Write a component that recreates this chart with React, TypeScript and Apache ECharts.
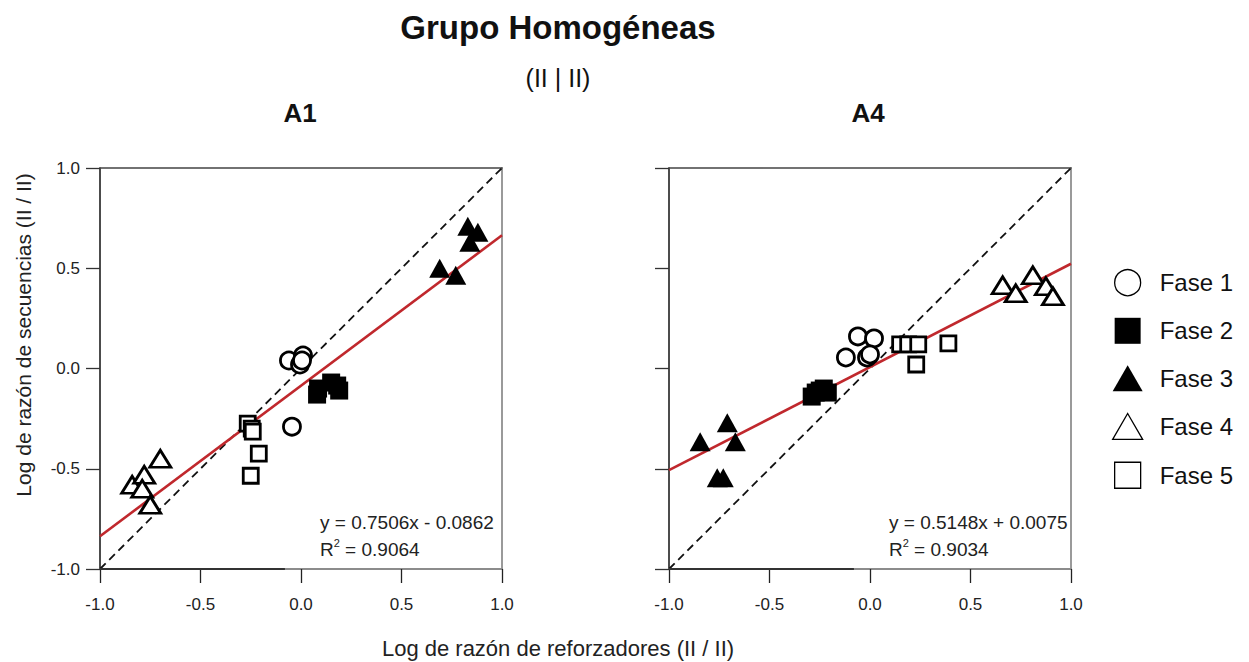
import React, { useEffect, useRef } from "react";
import * as echarts from "echarts";

// Phase names shared by both panels
const phases = ["Fase 1", "Fase 2", "Fase 3", "Fase 4", "Fase 5"];

// Panel A1: [log reinforcer ratio, log sequence ratio]
const a1Fase1 = [[-0.06, 0.04], [0.01, 0.065], [-0.005, 0.02], [0.005, 0.04], [-0.045, -0.29]];
const a1Fase2 = [[0.08, -0.13], [0.085, -0.1], [0.15, -0.07], [0.18, -0.085], [0.19, -0.11]];
const a1Fase3 = [[0.83, 0.71], [0.88, 0.68], [0.84, 0.63], [0.69, 0.5], [0.77, 0.465]];
const a1Fase4 = [[-0.84, -0.58], [-0.78, -0.53], [-0.79, -0.6], [-0.7, -0.45], [-0.75, -0.68]];
const a1Fase5 = [[-0.265, -0.275], [-0.245, -0.3], [-0.24, -0.315], [-0.21, -0.425], [-0.25, -0.535]];
const a1Fit = [0.7506, -0.0862];
const a1R2 = 0.9064;

// Panel A4
const a4Fase1 = [[-0.06, 0.16], [0.02, 0.15], [-0.12, 0.055], [-0.015, 0.055], [0.0, 0.07]];
const a4Fase2 = [[-0.29, -0.14], [-0.25, -0.11], [-0.21, -0.12], [-0.23, -0.1], [-0.27, -0.12]];
const a4Fase3 = [[-0.845, -0.365], [-0.71, -0.27], [-0.67, -0.365], [-0.76, -0.545], [-0.73, -0.545]];
const a4Fase4 = [[0.66, 0.415], [0.81, 0.465], [0.725, 0.375], [0.875, 0.41], [0.91, 0.36]];
const a4Fase5 = [[0.15, 0.12], [0.19, 0.12], [0.24, 0.12], [0.23, 0.02], [0.39, 0.125]];
const a4Fit = [0.5148, 0.0075];
const a4R2 = 0.9034;

const axisTicks = [-1.0, -0.5, 0.0, 0.5, 1.0];

const FONT = "'Liberation Sans', Arial, Helvetica, sans-serif";

// layout of the two plotting areas
const PANEL_TOP = 168;
const PANEL_H = 401;
const PANEL_W = 402;
const PANEL_LEFTS = [100, 669];

const symbolStyles = [
  { symbol: "circle", symbolSize: 17, itemStyle: { color: "#fff", borderColor: "#000", borderWidth: 2.8, opacity: 1 } },
  { symbol: "rect", symbolSize: 18, itemStyle: { color: "#000", borderColor: "#000", borderWidth: 0, opacity: 1 } },
  { symbol: "triangle", symbolSize: [21, 19], itemStyle: { color: "#000", borderColor: "#000", borderWidth: 0, opacity: 1 } },
  { symbol: "triangle", symbolSize: [21, 17], itemStyle: { color: "#fff", borderColor: "#000", borderWidth: 2.8, opacity: 1 } },
  { symbol: "rect", symbolSize: 15, itemStyle: { color: "#fff", borderColor: "#000", borderWidth: 2.8, opacity: 1 } },
];

const fmtEq = (fit: number[]) =>
  `y = ${fit[0].toFixed(4)}x ${fit[1] < 0 ? "-" : "+"} ${Math.abs(fit[1]).toFixed(4)}`;

export default function App() {
  const ref = useRef<HTMLDivElement>(null);

  useEffect(() => {
    if (!ref.current) return;
    const chart = echarts.init(ref.current, undefined, { renderer: "svg" });

    const panels = [
      { sets: [a1Fase1, a1Fase2, a1Fase3, a1Fase4, a1Fase5], fit: a1Fit, r2: a1R2 },
      { sets: [a4Fase1, a4Fase2, a4Fase3, a4Fase4, a4Fase5], fit: a4Fit, r2: a4R2 },
    ];

    const grids = PANEL_LEFTS.map((left) => ({
      left,
      top: PANEL_TOP,
      width: PANEL_W,
      height: PANEL_H,
      containLabel: false,
    }));

    const valueAxisBase = {
      type: "value",
      min: -1,
      max: 1,
      interval: 0.5,
      splitLine: { show: false },
    };

    const xAxes: any[] = [];
    const yAxes: any[] = [];
    [0, 1].forEach((g) => {
      xAxes.push({
        ...valueAxisBase,
        gridIndex: g,
        position: "bottom",
        axisLine: { show: true, onZero: false, lineStyle: { color: "#8c8c8c", width: 2 } },
        axisTick: { show: true, inside: false, length: 14, lineStyle: { color: "#222", width: 1.3 } },
        axisLabel: {
          show: true,
          margin: 27,
          fontFamily: FONT,
          fontSize: 17,
          color: "#222",
          formatter: (v: number) => v.toFixed(1),
        },
      });
      yAxes.push({
        ...valueAxisBase,
        gridIndex: g,
        position: "left",
        axisLine: { show: true, onZero: false, lineStyle: { color: "#111", width: 1.5 } },
        axisTick: { show: true, inside: false, length: 14, lineStyle: { color: "#333", width: 1.3 } },
        axisLabel: {
          show: g === 0,
          margin: 20,
          fontFamily: FONT,
          fontSize: 17,
          color: "#222",
          formatter: (v: number) => v.toFixed(1),
        },
      });
    });
    // frame: top and right edges
    [0, 1].forEach((g) => {
      xAxes.push({
        ...valueAxisBase,
        gridIndex: g,
        position: "top",
        axisLine: { show: true, onZero: false, lineStyle: { color: "#444", width: 1.5 } },
        axisTick: { show: false },
        axisLabel: { show: false },
      });
      yAxes.push({
        ...valueAxisBase,
        gridIndex: g,
        position: "right",
        axisLine: { show: true, onZero: false, lineStyle: { color: "#9a9a9a", width: 2 } },
        axisTick: { show: false },
        axisLabel: { show: false },
      });
    });

    const series: any[] = [];
    panels.forEach((p, g) => {
      series.push({
        name: "Identidad",
        type: "line",
        xAxisIndex: g,
        yAxisIndex: g,
        data: [[axisTicks[0], axisTicks[0]], [axisTicks[4], axisTicks[4]]],
        symbol: "none",
        silent: true,
        lineStyle: { color: "#111", width: 1.8, type: [8, 5] },
        z: 2,
      });
      series.push({
        name: "Ajuste",
        type: "line",
        xAxisIndex: g,
        yAxisIndex: g,
        data: [-1, 1].map((x) => [x, p.fit[0] * x + p.fit[1]]),
        symbol: "none",
        silent: true,
        lineStyle: { color: "#c0282d", width: 2.6 },
        z: 3,
      });
      p.sets.forEach((data, i) => {
        series.push({
          name: phases[i],
          type: "scatter",
          xAxisIndex: g,
          yAxisIndex: g,
          data,
          ...symbolStyles[i],
          z: 4,
        });
      });
    });

    const legendIcons = ["circle", "path://M0,0H10V10H0Z", "triangle", "triangle", "path://M0,0H10V10H0Z"];
    const legendStyles = [
      { color: "#fff", borderColor: "#000", borderWidth: 1.3, opacity: 1 },
      { color: "#000", borderColor: "#000", borderWidth: 0, opacity: 1 },
      { color: "#000", borderColor: "#000", borderWidth: 0, opacity: 1 },
      { color: "#fff", borderColor: "#000", borderWidth: 1.3, opacity: 1 },
      { color: "#fff", borderColor: "#000", borderWidth: 1.3, opacity: 1 },
    ];

    const eqGraphics: any[] = [];
    panels.forEach((p, g) => {
      const x0 = PANEL_LEFTS[g] + 220;
      eqGraphics.push({
        type: "text",
        x: x0,
        y: 522,
        style: {
          text: fmtEq(p.fit),
          font: `19px ${FONT}`,
          fill: "#222",
          textVerticalAlign: "middle",
        },
      });
      eqGraphics.push({
        type: "text",
        x: x0,
        y: 549,
        style: {
          text: `{n|R}{s|2}{n| = ${p.r2.toFixed(4)}}`,
          fill: "#222",
          textVerticalAlign: "middle",
          rich: {
            n: { fontSize: 19, fontFamily: FONT, fill: "#222", lineHeight: 24 },
            s: { fontSize: 11, fontFamily: FONT, fill: "#222", verticalAlign: "top", lineHeight: 24 },
          },
        },
      });
      // darker stretch of the baseline
      eqGraphics.push({
        type: "line",
        shape: {
          x1: PANEL_LEFTS[g],
          y1: PANEL_TOP + PANEL_H,
          x2: PANEL_LEFTS[g] + PANEL_W * 0.46,
          y2: PANEL_TOP + PANEL_H,
        },
        style: { stroke: "#333", lineWidth: 2 },
        z: 10,
      });
    });

    chart.setOption({
      animation: false,
      backgroundColor: "#fff",
      grid: grids,
      xAxis: xAxes,
      yAxis: yAxes,
      series,
      legend: {
        data: phases.map((name, i) => ({ name, icon: legendIcons[i], itemStyle: legendStyles[i] })),
        orient: "vertical",
        left: 1107,
        top: 264,
        itemWidth: 30,
        itemHeight: 26,
        itemGap: 21.5,
        selectedMode: false,
        textStyle: { fontFamily: FONT, fontSize: 24, color: "#111", padding: [0, 0, 0, 12] },
      },
      graphic: [
        {
          type: "text",
          x: 558,
          y: 27,
          style: {
            text: "Grupo Homogéneas",
            font: `bold 33px ${FONT}`,
            fill: "#111",
            textAlign: "center",
            textVerticalAlign: "middle",
          },
        },
        {
          type: "text",
          x: 558,
          y: 78,
          style: {
            text: "(II | II)",
            font: `25px ${FONT}`,
            fill: "#111",
            textAlign: "center",
            textVerticalAlign: "middle",
          },
        },
        {
          type: "text",
          x: 300,
          y: 113,
          style: {
            text: "A1",
            font: `bold 26px ${FONT}`,
            fill: "#111",
            textAlign: "center",
            textVerticalAlign: "middle",
          },
        },
        {
          type: "text",
          x: 868,
          y: 113,
          style: {
            text: "A4",
            font: `bold 26px ${FONT}`,
            fill: "#111",
            textAlign: "center",
            textVerticalAlign: "middle",
          },
        },
        {
          type: "text",
          x: 23,
          y: 335,
          rotation: Math.PI / 2,
          style: {
            text: "Log de razón de secuencias (II / II)",
            font: `21px ${FONT}`,
            fill: "#222",
            textAlign: "center",
            textVerticalAlign: "middle",
          },
        },
        {
          type: "text",
          x: 558,
          y: 648,
          style: {
            text: "Log de razón de reforzadores (II / II)",
            font: `22px ${FONT}`,
            fill: "#222",
            textAlign: "center",
            textVerticalAlign: "middle",
          },
        },
        ...eqGraphics,
      ],
    });

    return () => chart.dispose();
  }, []);

  return (
    <div
      ref={ref}
      style={{ position: "fixed", left: 0, top: 0, width: 1249, height: 662, background: "#fff" }}
    />
  );
}
